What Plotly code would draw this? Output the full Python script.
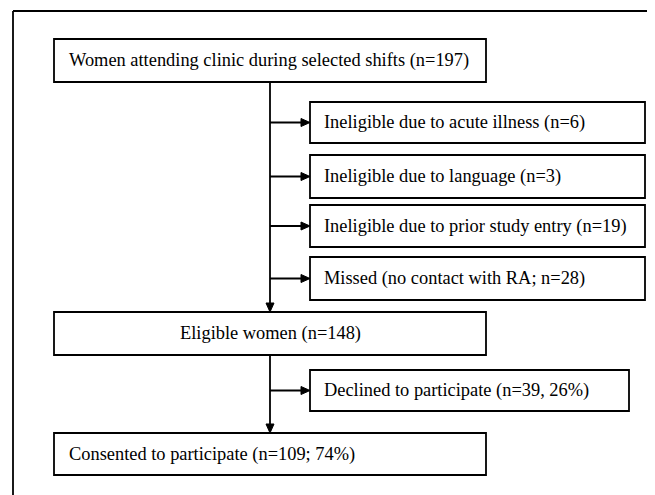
import plotly.graph_objects as go

# ---- data ----
main_labels = ["Women attending clinic during selected shifts", "Eligible women", "Consented to participate"]
main_counts = [197, 148, 109]
main_pcts = [None, None, 74]
excl_labels = ["Ineligible due to acute illness", "Ineligible due to language",
               "Ineligible due to prior study entry", "Missed (no contact with RA; "]
excl_counts = [6, 3, 19, 28]
declined_label = "Declined to participate"
declined_count = 39
declined_pct = 26

def main_text(i):
    if main_pcts[i] is None:
        return f"{main_labels[i]} (n={main_counts[i]})"
    return f"{main_labels[i]} (n={main_counts[i]}; {main_pcts[i]}%)"

def excl_text(i):
    if excl_labels[i].endswith("; "):
        return f"{excl_labels[i]}n={excl_counts[i]})"
    return f"{excl_labels[i]} (n={excl_counts[i]})"

# ---- layout geometry (page pixels) ----
PAGE_W, PAGE_H, BODY = 655, 495, 8
FONT = dict(family="Liberation Serif, Times New Roman, serif", size=18.4, color="black")
LW = 1.8
spine_x = 270
main_boxes = [(54, 486, 39, 82, "left"), (54, 486, 312, 355, "center"), (54, 486, 433, 475, "left")]
excl_boxes = [(310, 645, 102, 143), (310, 645, 155, 198), (310, 645, 205, 247), (310, 645, 257, 300)]
decl_box = (310, 629, 370, 411)

shapes = []
annos = []

def line(x0, y0, x1, y1):
    shapes.append(dict(type="line", xref="x", yref="y", x0=x0, y0=y0, x1=x1, y1=y1,
                       line=dict(color="black", width=LW)))

def box(x0, x1, y0, y1):
    shapes.append(dict(type="rect", xref="x", yref="y", x0=x0, x1=x1, y0=y0, y1=y1,
                       line=dict(color="black", width=LW), fillcolor="white"))

def label(x, y, text, anchor="left"):
    annos.append(dict(x=x, y=y, xref="x", yref="y", text=text, showarrow=False,
                      xanchor=anchor, yanchor="middle", font=FONT))

def head(x, y, direction):
    L, Hw = 9, 4
    if direction == "right":
        p = f"M {x} {y} L {x-L} {y-Hw} L {x-L} {y+Hw} Z"
    else:
        p = f"M {x} {y} L {x-Hw} {y-L} L {x+Hw} {y-L} Z"
    shapes.append(dict(type="path", xref="x", yref="y", path=p,
                       fillcolor="black", line=dict(color="black", width=1)))

def arrow_right(y, x1):
    line(spine_x, y, x1 - 6, y)
    head(x1, y, "right")

def arrow_down(y0, y1):
    line(spine_x, y0, spine_x, y1 - 6)
    head(spine_x, y1, "down")

# outer frame (bottom edge lies below the visible page)
line(13, 11, 652, 11)
line(13, 11, 13, 520)
line(652, 11, 652, 520)

arrow_down(main_boxes[0][3], main_boxes[1][2])
arrow_down(main_boxes[1][3], main_boxes[2][2])

for i, (x0, x1, y0, y1, al) in enumerate(main_boxes):
    box(x0, x1, y0, y1)
    ym = (y0 + y1) / 2
    if al == "left":
        label(x0 + 13, ym, main_text(i))
    else:
        label((x0 + x1) / 2, ym, main_text(i), "center")

for i, (x0, x1, y0, y1) in enumerate(excl_boxes):
    box(x0, x1, y0, y1)
    ym = (y0 + y1) / 2
    label(x0 + 12, ym, excl_text(i))
    arrow_right(ym, x0)

x0, x1, y0, y1 = decl_box
box(x0, x1, y0, y1)
label(x0 + 12, (y0 + y1) / 2, f"{declined_label} (n={declined_count}, {declined_pct}%)")
arrow_right((y0 + y1) / 2, x0)

fig = go.Figure()
fig.update_layout(
    width=PAGE_W - BODY, height=PAGE_H - BODY, margin=dict(l=0, r=0, t=0, b=0),
    paper_bgcolor="white", plot_bgcolor="white",
    xaxis=dict(range=[BODY, PAGE_W], visible=False, fixedrange=True),
    yaxis=dict(range=[PAGE_H, BODY], visible=False, fixedrange=True),
    shapes=shapes, annotations=annos, showlegend=False,
)
fig.write_html("out.html", config={"displayModeBar": False})
